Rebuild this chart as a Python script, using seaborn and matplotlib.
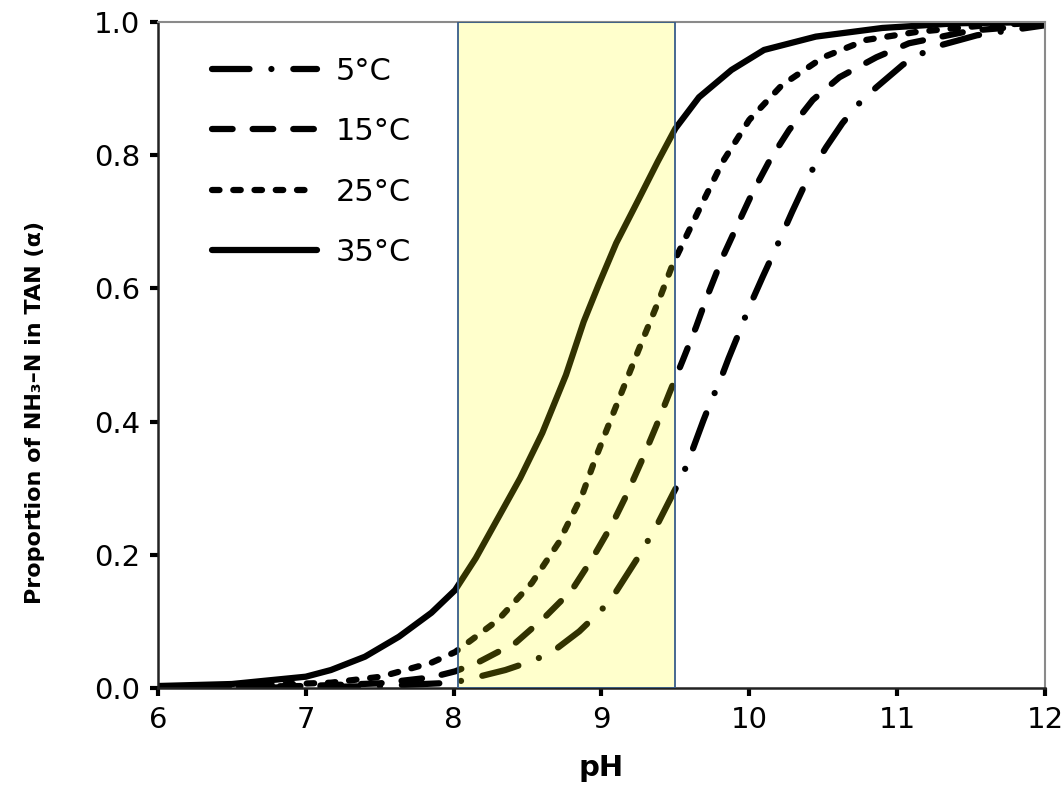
import numpy as np
import pandas as pd
import matplotlib
matplotlib.use("Agg")
import matplotlib.pyplot as plt
import seaborn as sns

# ---- data ----
ph_35 = [6.0, 6.5, 7.0, 7.17, 7.4, 7.63, 7.85, 8.01, 8.15, 8.3, 8.45, 8.6, 8.76, 8.88, 8.98,
         9.1, 9.25, 9.38, 9.5, 9.66, 9.88, 10.1, 10.45, 10.9, 11.4, 12.0]
a_35 = [0.003, 0.006, 0.017, 0.027, 0.047, 0.077, 0.113, 0.147, 0.195, 0.255, 0.315, 0.383,
        0.47, 0.55, 0.605, 0.668, 0.733, 0.79, 0.84, 0.887, 0.928, 0.958, 0.978, 0.991, 0.998, 1.0]

ph_25 = [6.0, 6.5, 7.17, 7.51, 7.85, 8.01, 8.12, 8.3, 8.53, 8.71, 8.87, 8.96, 9.07, 9.25,
         9.39, 9.48, 9.66, 9.82, 10.0, 10.22, 10.5, 10.79, 11.13, 11.6, 12.0]
a_25 = [0.002, 0.003, 0.008, 0.017, 0.038, 0.054, 0.072, 0.102, 0.158, 0.218, 0.29, 0.345,
        0.407, 0.507, 0.583, 0.635, 0.718, 0.79, 0.853, 0.905, 0.947, 0.973, 0.985, 0.995, 0.999]

ph_15 = [6.0, 7.0, 7.5, 7.85, 8.01, 8.17, 8.42, 8.62, 8.8, 8.94, 9.07, 9.17, 9.27, 9.37,
         9.46, 9.55, 9.64, 9.71, 9.82, 9.93, 10.02, 10.14, 10.27, 10.43, 10.61, 10.86,
         11.08, 11.5, 12.0]
a_15 = [0.001, 0.003, 0.007, 0.016, 0.025, 0.039, 0.068, 0.107, 0.147, 0.195, 0.245, 0.29,
        0.34, 0.393, 0.443, 0.492, 0.542, 0.585, 0.647, 0.7, 0.743, 0.793, 0.838, 0.883,
        0.917, 0.947, 0.968, 0.987, 0.996]

ph_5 = [6.0, 7.0, 7.5, 8.0, 8.17, 8.35, 8.55, 8.69, 8.85, 9.0, 9.1, 9.25, 9.37, 9.48, 9.55,
        9.6, 9.69, 9.74, 9.8, 9.86, 9.93, 9.99, 10.09, 10.2, 10.29, 10.41, 10.52, 10.63,
        10.73, 10.86, 11.04, 11.17, 11.31, 11.54, 11.72, 12.0]
a_5 = [0.0, 0.001, 0.003, 0.008, 0.017, 0.027, 0.042, 0.058, 0.085, 0.117, 0.145, 0.197,
       0.242, 0.29, 0.32, 0.348, 0.402, 0.43, 0.46, 0.495, 0.533, 0.567, 0.617, 0.67,
       0.715, 0.772, 0.812, 0.848, 0.875, 0.902, 0.936, 0.953, 0.966, 0.98, 0.986, 0.995]

labels = ["5°C", "15°C", "25°C", "35°C"]
band = [8.03, 9.5]
x_ticks = [6, 7, 8, 9, 10, 11, 12]
y_ticks = [0.0, 0.2, 0.4, 0.6, 0.8, 1.0]

series = [(labels[0], ph_5, a_5), (labels[1], ph_15, a_15),
          (labels[2], ph_25, a_25), (labels[3], ph_35, a_35)]
df = pd.concat([pd.DataFrame({"pH": x, "alpha": y, "T": lab}) for lab, x, y in series],
               ignore_index=True)

sns.set_style("ticks")
plt.rcParams["font.family"] = ["DejaVu Sans"]
plt.rcParams["text.color"] = "black"
plt.rcParams["axes.labelcolor"] = "black"
plt.rcParams["xtick.color"] = "black"
plt.rcParams["ytick.color"] = "black"

fig = plt.figure(figsize=(10.63, 7.93), dpi=100)
ax = fig.add_axes([0.1486, 0.1324, 0.8344, 0.8399])

LW = 4.5
dash_map = {
    "5°C": (6.0, 3.5, 0.01, 3.5),
    "15°C": (3.3, 3.2),
    "25°C": (1.2, 2.2),
    "35°C": "",
}
sns.lineplot(data=df, x="pH", y="alpha", style="T", style_order=labels,
             dashes=dash_map, color="black", lw=LW, ax=ax, legend=True,
             estimator=None, sort=True)
for ln in ax.get_lines():
    ln.set_dash_capstyle("round")
    ln.set_solid_capstyle("round")
    ln.set_solid_joinstyle("round")
    ln.set_dash_joinstyle("round")

ax.axvspan(band[0], band[1], facecolor=(1, 1, 0, 0.2), edgecolor="#385D8A",
           lw=1.3, zorder=5)

ax.set_xlim(6, 12)
ax.set_ylim(0, 1.0)
ax.set_xticks(x_ticks)
ax.set_yticks(y_ticks)
ax.set_xticklabels([str(v) for v in x_ticks])
ax.set_yticklabels([f"{v:.1f}" for v in y_ticks])
ax.tick_params(axis="both", which="major", direction="out", length=6, width=3,
               labelsize=21, colors="black", pad=7)
ax.tick_params(top=False, right=False)

for s in ["left", "bottom"]:
    ax.spines[s].set_color("#222222")
    ax.spines[s].set_linewidth(1.8)
for s in ["top", "right"]:
    ax.spines[s].set_color("#8a8a8a")
    ax.spines[s].set_linewidth(1.5)
    ax.spines[s].set_visible(True)

ax.set_xlabel("pH", fontsize=21, fontweight="bold", labelpad=14, color="black")
ax.set_ylabel("Proportion of NH₃–N in TAN (α)", fontsize=16, fontweight="bold",
              color="black")
ax.yaxis.set_label_coords(-0.127, 0.414)

handles, labs = ax.get_legend_handles_labels()
leg = ax.legend(handles, labs, loc="upper left", bbox_to_anchor=(0.0614, 0.948),
                frameon=False, fontsize=22, handlelength=3.43, handletextpad=0.59,
                labelspacing=1.03, borderpad=0, borderaxespad=0)
for h in leg.get_lines():
    h.set_linewidth(LW)
    h.set_dash_capstyle("round")
    h.set_solid_capstyle("round")
for t in leg.get_texts():
    t.set_color("black")

fig.savefig("out.png", dpi=100)
